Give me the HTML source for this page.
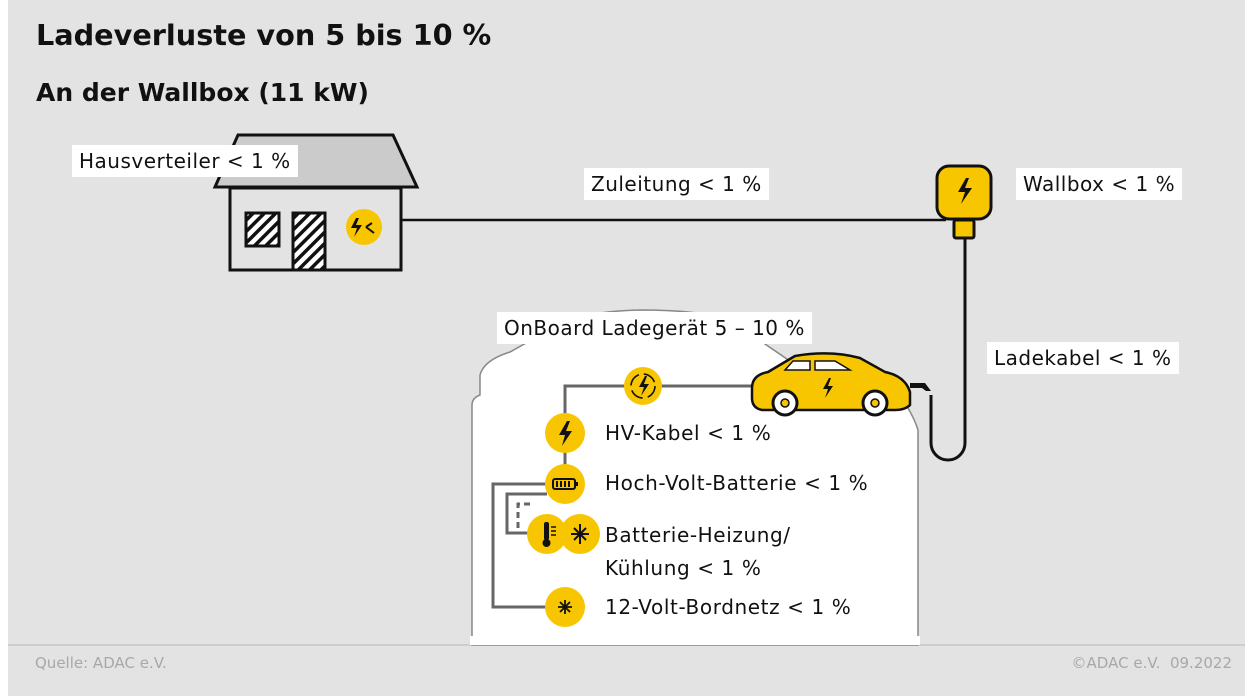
<!DOCTYPE html>
<html><head><meta charset="utf-8"><style>
body{margin:0;width:1245px;height:696px;background:#fff;overflow:hidden;font-family:"DejaVu Sans","Liberation Sans",sans-serif}
.bg{position:absolute;left:8px;top:0;width:1237px;height:696px;background:#e3e3e3}
.t{position:absolute;white-space:nowrap;color:#111}
.lb{position:absolute;background:#fff;color:#111;font-size:20px;line-height:32px;padding:0 7px;white-space:nowrap;letter-spacing:0.5px}
.it{font-size:20px;letter-spacing:0.6px}
</style></head><body>
<div class="bg"></div>
<svg style="position:absolute;left:0;top:0" width="1245" height="696">
<defs><pattern id="h" width="8" height="8" patternUnits="userSpaceOnUse" patternTransform="rotate(45)"><rect width="8" height="8" fill="#fff"/><rect width="3.5" height="8" fill="#111"/></pattern></defs>
<line x1="8" y1="645" x2="1245" y2="645" stroke="#c8c8c8" stroke-width="1.5"/>
<polygon points="238,135 393,135 417,187 215,187" fill="#cbcbcb" stroke="#111" stroke-width="3"/>
<rect x="230" y="188" width="171" height="82" fill="#e3e3e3" stroke="#111" stroke-width="3"/>
<rect x="246" y="213" width="33" height="33" fill="url(#h)" stroke="#111" stroke-width="3"/>
<rect x="293" y="213" width="32" height="57" fill="url(#h)" stroke="#111" stroke-width="3"/>
<circle cx="364" cy="227" r="18" fill="#f7c600"/>
<path d="M356 218 l-5 10 h6 l-3 9 l8 -12 h-6 l3 -7z" fill="#111"/>
<path d="M366 227 l6 -4 M366 227 l8 6" stroke="#111" stroke-width="2"/>
<line x1="401" y1="220" x2="946" y2="220" stroke="#111" stroke-width="2.5"/>
<rect x="937" y="166" width="54" height="53" rx="12" fill="#f7c600" stroke="#111" stroke-width="3"/>
<path d="M966 178 l-8 14 h7 l-4 12 l11 -16 h-7 l4 -10z" fill="#111"/>
<rect x="954" y="220" width="20" height="18" rx="2" fill="#f7c600" stroke="#111" stroke-width="3"/>
<path d="M965 238 V443 a17 17 0 0 1 -34 0 V395" fill="none" stroke="#111" stroke-width="3"/>
<path d="M472 645 V405 Q472 398 480 395 V375 Q484 360 510 352 L535 338 Q560 312 640 310 Q700 310 730 320 L800 368 L880 378 Q905 390 908 408 Q915 420 918 430 V645 Z" fill="#fff" stroke="#888" stroke-width="1.5"/>
<rect x="470" y="636" width="450" height="9" fill="#fff"/>
<g fill="none" stroke="#666" stroke-width="3">
<path d="M752 386 H565 V484"/>
<path d="M547 484 H493 V607 H565"/>
<path d="M547 494 H507 V533 H530"/>
<path d="M530 504 H518 V530" stroke-dasharray="6 4"/>
</g>
<g fill="#f7c600">
<circle cx="643" cy="386" r="19"/><circle cx="565" cy="433" r="20"/><circle cx="565" cy="484" r="20"/>
<circle cx="547" cy="534" r="20"/><circle cx="580" cy="534" r="20"/><circle cx="565" cy="607" r="20"/>
</g>
<path d="M645 376 l-6 11 h5 l-3 9 l8 -12 h-5 l3 -8z" fill="#111"/>
<circle cx="643" cy="386" r="12" fill="none" stroke="#111" stroke-width="1.6" stroke-dasharray="14 5"/>
<path d="M567 421 l-8 14 h6 l-3 11 l10 -15 h-6 l4 -10z" fill="#111"/>
<rect x="553" y="479" width="22" height="10" rx="2" fill="none" stroke="#111" stroke-width="2"/>
<path d="M557 481 v6 M561 481 v6 M565 481 v6 M569 481 v6" stroke="#111" stroke-width="2"/>
<rect x="575" y="482" width="3" height="4" fill="#111"/>
<rect x="544" y="522" width="5" height="18" rx="2" fill="#111"/><circle cx="546.5" cy="543" r="4" fill="#111"/>
<path d="M551 527 h5 M551 531 h5 M551 535 h5" stroke="#111" stroke-width="1.5"/>
<path d="M580 524 v20 M571 534 h18 M574 528 l12 12 M586 528 l-12 12" stroke="#111" stroke-width="2"/>
<path d="M558 607 h14 M565 600 v14 M560 602 l10 10 M570 602 l-10 10" stroke="#111" stroke-width="1.8"/>
<path d="M752 388 Q752 375 768 372 L795 356 Q830 350 860 358 L885 372 Q905 376 910 392 V405 Q905 410 895 410 H762 Q752 408 752 398 Z" fill="#f7c600" stroke="#111" stroke-width="2.5"/>
<path d="M785 370 l8 -9 h17 v9z M815 361 h20 l15 9 h-35z" fill="#fff" stroke="#111" stroke-width="1.5"/>
<path d="M829 378 l-6 11 h5 l-3 9 l8 -12 h-5 l3 -8z" fill="#111"/>
<circle cx="785" cy="403" r="12" fill="#fff" stroke="#111" stroke-width="3"/><circle cx="785" cy="403" r="4" fill="#f7c600" stroke="#111" stroke-width="1.5"/>
<circle cx="875" cy="403" r="12" fill="#fff" stroke="#111" stroke-width="3"/><circle cx="875" cy="403" r="4" fill="#f7c600" stroke="#111" stroke-width="1.5"/>
<path d="M910 383 h15 l6 8 h-5 l-4 -3 h-12z" fill="#111"/>
</svg>
<div class="t" style="left:36px;top:18px;font-size:28.7px;font-weight:bold">Ladeverluste von 5 bis 10 %</div>
<div class="t" style="left:36px;top:78px;font-size:25px;font-weight:bold">An der Wallbox (11 kW)</div>
<div class="lb" style="left:72px;top:145px">Hausverteiler &lt; 1 %</div>
<div class="lb" style="left:584px;top:168px">Zuleitung &lt; 1 %</div>
<div class="lb" style="left:1016px;top:168px">Wallbox &lt; 1 %</div>
<div class="lb" style="left:987px;top:342px">Ladekabel &lt; 1 %</div>
<div class="lb" style="left:497px;top:312px">OnBoard Ladegerät 5 – 10 %</div>
<div class="t it" style="left:605px;top:421px">HV-Kabel &lt; 1 %</div>
<div class="t it" style="left:605px;top:471px">Hoch-Volt-Batterie &lt; 1 %</div>
<div class="t it" style="left:605px;top:519px;line-height:33px;white-space:normal">Batterie-Heizung/<br>Kühlung &lt; 1 %</div>
<div class="t it" style="left:605px;top:595px">12-Volt-Bordnetz &lt; 1 %</div>
<div class="t" style="left:35px;top:654px;font-size:15px;color:#a8a8a8">Quelle: ADAC e.V.</div>
<div class="t" style="right:13px;top:654px;font-size:15px;color:#a8a8a8">©ADAC e.V.&nbsp; 09.2022</div>
</body></html>
